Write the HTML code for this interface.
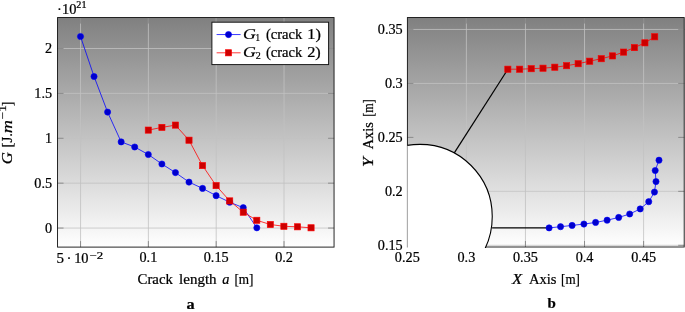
<!DOCTYPE html>
<html><head><meta charset="utf-8"><title>Figure</title>
<style>html,body{margin:0;padding:0;background:#fff}body{width:685px;height:312px;overflow:hidden}svg{display:block;will-change:transform}text{font-family:"Liberation Serif",serif;fill:#000;stroke:#000;stroke-width:0.22px}</style>
</head><body>
<svg width="685" height="312" viewBox="0 0 685 312">
<defs><linearGradient id="bg" x1="0" y1="0" x2="0" y2="1"><stop offset="0" stop-color="#808080"/><stop offset="1" stop-color="#ffffff"/></linearGradient>
<clipPath id="cr"><rect x="407.4" y="17.55" width="276.8" height="230.45"/></clipPath>
</defs>
<rect width="685" height="312" fill="#fff"/>
<rect x="57.55" y="17.55" width="276.5" height="229.55" fill="url(#bg)"/>
<line x1="80.55" y1="17.55" x2="80.55" y2="247.1" stroke="#c2c2c2" stroke-width="0.8"/>
<line x1="148.38" y1="17.55" x2="148.38" y2="247.1" stroke="#c2c2c2" stroke-width="0.8"/>
<line x1="216.2" y1="17.55" x2="216.2" y2="247.1" stroke="#c2c2c2" stroke-width="0.8"/>
<line x1="284.03" y1="17.55" x2="284.03" y2="247.1" stroke="#c2c2c2" stroke-width="0.8"/>
<line x1="57.55" y1="228.05" x2="334.05" y2="228.05" stroke="#c2c2c2" stroke-width="0.8"/>
<line x1="57.55" y1="183.16" x2="334.05" y2="183.16" stroke="#c2c2c2" stroke-width="0.8"/>
<line x1="57.55" y1="138.27" x2="334.05" y2="138.27" stroke="#c2c2c2" stroke-width="0.8"/>
<line x1="57.55" y1="93.38" x2="334.05" y2="93.38" stroke="#c2c2c2" stroke-width="0.8"/>
<line x1="57.55" y1="48.49" x2="334.05" y2="48.49" stroke="#c2c2c2" stroke-width="0.8"/>
<line x1="80.55" y1="17.55" x2="80.55" y2="23.55" stroke="#848484" stroke-width="0.9"/>
<line x1="80.55" y1="247.1" x2="80.55" y2="241.1" stroke="#848484" stroke-width="0.9"/>
<line x1="148.38" y1="17.55" x2="148.38" y2="23.55" stroke="#848484" stroke-width="0.9"/>
<line x1="148.38" y1="247.1" x2="148.38" y2="241.1" stroke="#848484" stroke-width="0.9"/>
<line x1="216.2" y1="17.55" x2="216.2" y2="23.55" stroke="#848484" stroke-width="0.9"/>
<line x1="216.2" y1="247.1" x2="216.2" y2="241.1" stroke="#848484" stroke-width="0.9"/>
<line x1="284.03" y1="17.55" x2="284.03" y2="23.55" stroke="#848484" stroke-width="0.9"/>
<line x1="284.03" y1="247.1" x2="284.03" y2="241.1" stroke="#848484" stroke-width="0.9"/>
<line x1="57.55" y1="228.05" x2="63.55" y2="228.05" stroke="#848484" stroke-width="0.9"/>
<line x1="334.05" y1="228.05" x2="328.05" y2="228.05" stroke="#848484" stroke-width="0.9"/>
<line x1="57.55" y1="183.16" x2="63.55" y2="183.16" stroke="#848484" stroke-width="0.9"/>
<line x1="334.05" y1="183.16" x2="328.05" y2="183.16" stroke="#848484" stroke-width="0.9"/>
<line x1="57.55" y1="138.27" x2="63.55" y2="138.27" stroke="#848484" stroke-width="0.9"/>
<line x1="334.05" y1="138.27" x2="328.05" y2="138.27" stroke="#848484" stroke-width="0.9"/>
<line x1="57.55" y1="93.38" x2="63.55" y2="93.38" stroke="#848484" stroke-width="0.9"/>
<line x1="334.05" y1="93.38" x2="328.05" y2="93.38" stroke="#848484" stroke-width="0.9"/>
<line x1="57.55" y1="48.49" x2="63.55" y2="48.49" stroke="#848484" stroke-width="0.9"/>
<line x1="334.05" y1="48.49" x2="328.05" y2="48.49" stroke="#848484" stroke-width="0.9"/>
<rect x="57.55" y="17.55" width="276.5" height="229.55" fill="none" stroke="#141414" stroke-width="0.92"/>
<polyline fill="none" stroke="#0000ff" stroke-width="0.78" points="80.5,36.5 94.05,76.5 107.6,112.1 121.15,141.9 134.7,147 148.3,154.5 161.9,164 175.45,172.6 189,182.1 202.55,188.4 216.1,195.65 229.7,202.2 243.25,207.7 256.8,227.8"/>
<circle cx="80.5" cy="36.5" r="3.1" fill="#0000cc" stroke="#0000ff" stroke-width="0.6"/>
<circle cx="94.05" cy="76.5" r="3.1" fill="#0000cc" stroke="#0000ff" stroke-width="0.6"/>
<circle cx="107.6" cy="112.1" r="3.1" fill="#0000cc" stroke="#0000ff" stroke-width="0.6"/>
<circle cx="121.15" cy="141.9" r="3.1" fill="#0000cc" stroke="#0000ff" stroke-width="0.6"/>
<circle cx="134.7" cy="147" r="3.1" fill="#0000cc" stroke="#0000ff" stroke-width="0.6"/>
<circle cx="148.3" cy="154.5" r="3.1" fill="#0000cc" stroke="#0000ff" stroke-width="0.6"/>
<circle cx="161.9" cy="164" r="3.1" fill="#0000cc" stroke="#0000ff" stroke-width="0.6"/>
<circle cx="175.45" cy="172.6" r="3.1" fill="#0000cc" stroke="#0000ff" stroke-width="0.6"/>
<circle cx="189" cy="182.1" r="3.1" fill="#0000cc" stroke="#0000ff" stroke-width="0.6"/>
<circle cx="202.55" cy="188.4" r="3.1" fill="#0000cc" stroke="#0000ff" stroke-width="0.6"/>
<circle cx="216.1" cy="195.65" r="3.1" fill="#0000cc" stroke="#0000ff" stroke-width="0.6"/>
<circle cx="229.7" cy="202.2" r="3.1" fill="#0000cc" stroke="#0000ff" stroke-width="0.6"/>
<circle cx="243.25" cy="207.7" r="3.1" fill="#0000cc" stroke="#0000ff" stroke-width="0.6"/>
<circle cx="256.8" cy="227.8" r="3.1" fill="#0000cc" stroke="#0000ff" stroke-width="0.6"/>
<polyline fill="none" stroke="#ff0000" stroke-width="0.78" points="148.3,130.1 161.9,127.4 175.45,125.1 189,140.2 202.55,165.6 216.1,185.6 229.7,200.9 243.25,212.2 256.8,220.3 270.35,224.5 283.9,226.3 297.5,226.8 311.05,227.8"/>
<rect x="145.2" y="127" width="6.2" height="6.2" fill="#cc0000" stroke="#ff0000" stroke-width="0.6"/>
<rect x="158.8" y="124.3" width="6.2" height="6.2" fill="#cc0000" stroke="#ff0000" stroke-width="0.6"/>
<rect x="172.35" y="122" width="6.2" height="6.2" fill="#cc0000" stroke="#ff0000" stroke-width="0.6"/>
<rect x="185.9" y="137.1" width="6.2" height="6.2" fill="#cc0000" stroke="#ff0000" stroke-width="0.6"/>
<rect x="199.45" y="162.5" width="6.2" height="6.2" fill="#cc0000" stroke="#ff0000" stroke-width="0.6"/>
<rect x="213" y="182.5" width="6.2" height="6.2" fill="#cc0000" stroke="#ff0000" stroke-width="0.6"/>
<rect x="226.6" y="197.8" width="6.2" height="6.2" fill="#cc0000" stroke="#ff0000" stroke-width="0.6"/>
<rect x="240.15" y="209.1" width="6.2" height="6.2" fill="#cc0000" stroke="#ff0000" stroke-width="0.6"/>
<rect x="253.7" y="217.2" width="6.2" height="6.2" fill="#cc0000" stroke="#ff0000" stroke-width="0.6"/>
<rect x="267.25" y="221.4" width="6.2" height="6.2" fill="#cc0000" stroke="#ff0000" stroke-width="0.6"/>
<rect x="280.8" y="223.2" width="6.2" height="6.2" fill="#cc0000" stroke="#ff0000" stroke-width="0.6"/>
<rect x="294.4" y="223.7" width="6.2" height="6.2" fill="#cc0000" stroke="#ff0000" stroke-width="0.6"/>
<rect x="307.95" y="224.7" width="6.2" height="6.2" fill="#cc0000" stroke="#ff0000" stroke-width="0.6"/>
<rect x="211.9" y="22.2" width="116.7" height="42.4" fill="#fff" stroke="#111" stroke-width="0.95"/>
<line x1="216.6" y1="34.55" x2="240.6" y2="34.55" stroke="#0000ff" stroke-width="0.78"/>
<circle cx="228.5" cy="34.55" r="3.1" fill="#0000cc" stroke="#0000ff" stroke-width="0.6"/>
<line x1="216.6" y1="52.8" x2="240.6" y2="52.8" stroke="#ff0000" stroke-width="0.78"/>
<rect x="225.4" y="49.7" width="6.2" height="6.2" fill="#cc0000" stroke="#ff0000" stroke-width="0.6"/>
<text transform="translate(242.9,38.7) scale(1.243,1)" font-size="14.3"><tspan font-style="italic">G</tspan></text>
<text transform="translate(255.42,41.2) scale(0.896,1)" font-size="10.0">1</text>
<text transform="translate(265.9,38.7) scale(1.021,1)" font-size="14.3">(crack</text>
<text transform="translate(307.33,38.7) scale(1.140,1)" font-size="14.3">1)</text>
<text transform="translate(242.9,56.6) scale(1.243,1)" font-size="14.3"><tspan font-style="italic">G</tspan></text>
<text transform="translate(255.7,59.1) scale(1.000,1)" font-size="10.0">2</text>
<text transform="translate(265.9,56.6) scale(1.021,1)" font-size="14.3">(crack</text>
<text transform="translate(307.18,56.6) scale(1.144,1)" font-size="14.3">2)</text>
<text transform="translate(52.1,232.65) scale(1.05,1)" text-anchor="end" font-size="13.55" >0</text>
<text transform="translate(52.1,187.76) scale(1.05,1)" text-anchor="end" font-size="13.55" >0.5</text>
<text transform="translate(52.1,142.87) scale(1.05,1)" text-anchor="end" font-size="13.55" >1</text>
<text transform="translate(52.1,97.98) scale(1.05,1)" text-anchor="end" font-size="13.55" >1.5</text>
<text transform="translate(52.1,53.09) scale(1.05,1)" text-anchor="end" font-size="13.55" >2</text>
<text transform="translate(56.62,263.4) scale(1.109,1)" font-size="13.55">5</text>
<text transform="translate(66.5,263.4) scale(1.111,1)" font-size="13.55">·</text>
<text transform="translate(74.15,263.4) scale(1.064,1)" font-size="13.55">10</text>
<text transform="translate(89.45,258.5) scale(1.350,1)" font-size="9.5">−2</text>
<text transform="translate(148.38,261.8) scale(1.05,1)" text-anchor="middle" font-size="13.55" >0.1</text>
<text transform="translate(216.2,261.8) scale(1.05,1)" text-anchor="middle" font-size="13.55" >0.15</text>
<text transform="translate(284.03,261.8) scale(1.05,1)" text-anchor="middle" font-size="13.55" >0.2</text>
<text transform="translate(57.12,13.5) scale(1.066,1)" font-size="13.55">·10</text>
<text transform="translate(76.3,7.9) scale(1.071,1)" font-size="9.5">21</text>
<text transform="translate(137.57,284.1) scale(1.036,1)" font-size="14.3">Crack</text>
<text transform="translate(179.1,284.1) scale(1.051,1)" font-size="14.3">length</text>
<text transform="translate(222.2,284.1) scale(1.000,1)" font-size="14.3"><tspan font-style="italic">a</tspan></text>
<text transform="translate(234.38,284.1) scale(0.924,1)" font-size="14.3">[m]</text>
<text transform="translate(186.4,308.5) scale(1.071,1)" font-size="15.2" font-weight="bold">a</text>
<text transform="translate(12.3,0) rotate(-90) translate(-164.32,0) scale(1.173,1)" font-size="14.3"><tspan font-style="italic">G</tspan></text>
<text transform="translate(12.3,0) rotate(-90) translate(-147.55,0) scale(1.046,1)" font-size="14.3">[J.</text>
<text transform="translate(12.3,0) rotate(-90) translate(-133.22,0) scale(1.276,1)" font-size="14.3"><tspan font-style="italic">m</tspan></text>
<text transform="translate(6.3,0) rotate(-90) translate(-119.2,0) scale(1.321,1)" font-size="10.0">−1</text>
<text transform="translate(12.3,0) rotate(-90) translate(-105.95,0) scale(0.910,1)" font-size="14.3">]</text>
<rect x="407.4" y="17.55" width="276.8" height="229.45" fill="url(#bg)"/>
<line x1="466.38" y1="17.55" x2="466.38" y2="247" stroke="#c2c2c2" stroke-width="0.8"/>
<line x1="525.45" y1="17.55" x2="525.45" y2="247" stroke="#c2c2c2" stroke-width="0.8"/>
<line x1="584.53" y1="17.55" x2="584.53" y2="247" stroke="#c2c2c2" stroke-width="0.8"/>
<line x1="643.6" y1="17.55" x2="643.6" y2="247" stroke="#c2c2c2" stroke-width="0.8"/>
<line x1="407.4" y1="245.3" x2="684.2" y2="245.3" stroke="#c2c2c2" stroke-width="0.8"/>
<line x1="407.4" y1="191.34" x2="684.2" y2="191.34" stroke="#c2c2c2" stroke-width="0.8"/>
<line x1="407.4" y1="137.38" x2="684.2" y2="137.38" stroke="#c2c2c2" stroke-width="0.8"/>
<line x1="407.4" y1="83.41" x2="684.2" y2="83.41" stroke="#c2c2c2" stroke-width="0.8"/>
<line x1="407.4" y1="29.45" x2="684.2" y2="29.45" stroke="#c2c2c2" stroke-width="0.8"/>
<line x1="466.38" y1="17.55" x2="466.38" y2="23.55" stroke="#848484" stroke-width="0.9"/>
<line x1="466.38" y1="247" x2="466.38" y2="241" stroke="#848484" stroke-width="0.9"/>
<line x1="525.45" y1="17.55" x2="525.45" y2="23.55" stroke="#848484" stroke-width="0.9"/>
<line x1="525.45" y1="247" x2="525.45" y2="241" stroke="#848484" stroke-width="0.9"/>
<line x1="584.53" y1="17.55" x2="584.53" y2="23.55" stroke="#848484" stroke-width="0.9"/>
<line x1="584.53" y1="247" x2="584.53" y2="241" stroke="#848484" stroke-width="0.9"/>
<line x1="643.6" y1="17.55" x2="643.6" y2="23.55" stroke="#848484" stroke-width="0.9"/>
<line x1="643.6" y1="247" x2="643.6" y2="241" stroke="#848484" stroke-width="0.9"/>
<line x1="407.4" y1="245.3" x2="413.4" y2="245.3" stroke="#848484" stroke-width="0.9"/>
<line x1="684.2" y1="245.3" x2="678.2" y2="245.3" stroke="#848484" stroke-width="0.9"/>
<line x1="407.4" y1="191.34" x2="413.4" y2="191.34" stroke="#848484" stroke-width="0.9"/>
<line x1="684.2" y1="191.34" x2="678.2" y2="191.34" stroke="#848484" stroke-width="0.9"/>
<line x1="407.4" y1="137.38" x2="413.4" y2="137.38" stroke="#848484" stroke-width="0.9"/>
<line x1="684.2" y1="137.38" x2="678.2" y2="137.38" stroke="#848484" stroke-width="0.9"/>
<line x1="407.4" y1="83.41" x2="413.4" y2="83.41" stroke="#848484" stroke-width="0.9"/>
<line x1="684.2" y1="83.41" x2="678.2" y2="83.41" stroke="#848484" stroke-width="0.9"/>
<line x1="407.4" y1="29.45" x2="413.4" y2="29.45" stroke="#848484" stroke-width="0.9"/>
<line x1="684.2" y1="29.45" x2="678.2" y2="29.45" stroke="#848484" stroke-width="0.9"/>
<rect x="407.4" y="17.55" width="276.8" height="229.45" fill="none" stroke="#141414" stroke-width="0.92"/>
<g clip-path="url(#cr)">
<circle cx="420" cy="216.6" r="72.25" fill="#fff" stroke="#000" stroke-width="1.1"/>
</g>
<line x1="454.3" y1="152.9" x2="507.85" y2="69.2" stroke="#000" stroke-width="1.2"/>
<line x1="492.1" y1="227.85" x2="549.1" y2="227.85" stroke="#000" stroke-width="1.2"/>
<polyline fill="none" stroke="#ff0000" stroke-width="0.78" points="507.85,69.2 519.65,69.2 531.2,68.7 543,68.2 554.8,67.2 566.6,65.7 578.15,63.7 589.7,61.2 601.25,58.7 612.55,55.9 623.6,52.1 634.4,47.6 644.9,42.85 654.7,36.8"/>
<rect x="504.75" y="66.1" width="6.2" height="6.2" fill="#cc0000" stroke="#ff0000" stroke-width="0.6"/>
<rect x="516.55" y="66.1" width="6.2" height="6.2" fill="#cc0000" stroke="#ff0000" stroke-width="0.6"/>
<rect x="528.1" y="65.6" width="6.2" height="6.2" fill="#cc0000" stroke="#ff0000" stroke-width="0.6"/>
<rect x="539.9" y="65.1" width="6.2" height="6.2" fill="#cc0000" stroke="#ff0000" stroke-width="0.6"/>
<rect x="551.7" y="64.1" width="6.2" height="6.2" fill="#cc0000" stroke="#ff0000" stroke-width="0.6"/>
<rect x="563.5" y="62.6" width="6.2" height="6.2" fill="#cc0000" stroke="#ff0000" stroke-width="0.6"/>
<rect x="575.05" y="60.6" width="6.2" height="6.2" fill="#cc0000" stroke="#ff0000" stroke-width="0.6"/>
<rect x="586.6" y="58.1" width="6.2" height="6.2" fill="#cc0000" stroke="#ff0000" stroke-width="0.6"/>
<rect x="598.15" y="55.6" width="6.2" height="6.2" fill="#cc0000" stroke="#ff0000" stroke-width="0.6"/>
<rect x="609.45" y="52.8" width="6.2" height="6.2" fill="#cc0000" stroke="#ff0000" stroke-width="0.6"/>
<rect x="620.5" y="49" width="6.2" height="6.2" fill="#cc0000" stroke="#ff0000" stroke-width="0.6"/>
<rect x="631.3" y="44.5" width="6.2" height="6.2" fill="#cc0000" stroke="#ff0000" stroke-width="0.6"/>
<rect x="641.8" y="39.75" width="6.2" height="6.2" fill="#cc0000" stroke="#ff0000" stroke-width="0.6"/>
<rect x="651.6" y="33.7" width="6.2" height="6.2" fill="#cc0000" stroke="#ff0000" stroke-width="0.6"/>
<polyline fill="none" stroke="#0000ff" stroke-width="0.78" points="549.1,227.9 560.55,226.7 572.1,225.45 583.9,224.05 595.6,222.45 607.1,220.2 618.7,217.45 629.7,214 640.2,208.95 648.75,201.7 654.45,192.1 656,181.6 655.2,170.5 659,160.2"/>
<circle cx="549.1" cy="227.9" r="3.1" fill="#0000cc" stroke="#0000ff" stroke-width="0.6"/>
<circle cx="560.55" cy="226.7" r="3.1" fill="#0000cc" stroke="#0000ff" stroke-width="0.6"/>
<circle cx="572.1" cy="225.45" r="3.1" fill="#0000cc" stroke="#0000ff" stroke-width="0.6"/>
<circle cx="583.9" cy="224.05" r="3.1" fill="#0000cc" stroke="#0000ff" stroke-width="0.6"/>
<circle cx="595.6" cy="222.45" r="3.1" fill="#0000cc" stroke="#0000ff" stroke-width="0.6"/>
<circle cx="607.1" cy="220.2" r="3.1" fill="#0000cc" stroke="#0000ff" stroke-width="0.6"/>
<circle cx="618.7" cy="217.45" r="3.1" fill="#0000cc" stroke="#0000ff" stroke-width="0.6"/>
<circle cx="629.7" cy="214" r="3.1" fill="#0000cc" stroke="#0000ff" stroke-width="0.6"/>
<circle cx="640.2" cy="208.95" r="3.1" fill="#0000cc" stroke="#0000ff" stroke-width="0.6"/>
<circle cx="648.75" cy="201.7" r="3.1" fill="#0000cc" stroke="#0000ff" stroke-width="0.6"/>
<circle cx="654.45" cy="192.1" r="3.1" fill="#0000cc" stroke="#0000ff" stroke-width="0.6"/>
<circle cx="656" cy="181.6" r="3.1" fill="#0000cc" stroke="#0000ff" stroke-width="0.6"/>
<circle cx="655.2" cy="170.5" r="3.1" fill="#0000cc" stroke="#0000ff" stroke-width="0.6"/>
<circle cx="659" cy="160.2" r="3.1" fill="#0000cc" stroke="#0000ff" stroke-width="0.6"/>
<text transform="translate(402.7,249.9) scale(1.05,1)" text-anchor="end" font-size="13.55" >0.15</text>
<text transform="translate(402.7,195.94) scale(1.05,1)" text-anchor="end" font-size="13.55" >0.2</text>
<text transform="translate(402.7,141.97) scale(1.05,1)" text-anchor="end" font-size="13.55" >0.25</text>
<text transform="translate(402.7,88.01) scale(1.05,1)" text-anchor="end" font-size="13.55" >0.3</text>
<text transform="translate(402.7,34.05) scale(1.05,1)" text-anchor="end" font-size="13.55" >0.35</text>
<text transform="translate(407.3,261.8) scale(1.05,1)" text-anchor="middle" font-size="13.55" >0.25</text>
<text transform="translate(466.38,261.8) scale(1.05,1)" text-anchor="middle" font-size="13.55" >0.3</text>
<text transform="translate(525.45,261.8) scale(1.05,1)" text-anchor="middle" font-size="13.55" >0.35</text>
<text transform="translate(584.53,261.8) scale(1.05,1)" text-anchor="middle" font-size="13.55" >0.4</text>
<text transform="translate(643.6,261.8) scale(1.05,1)" text-anchor="middle" font-size="13.55" >0.45</text>
<text transform="translate(511.92,284.1) scale(1.159,1)" font-size="14.3"><tspan font-style="italic">X</tspan></text>
<text transform="translate(528.95,284.1) scale(1.021,1)" font-size="14.3">Axis</text>
<text transform="translate(561.1,284.1) scale(0.914,1)" font-size="14.3">[m]</text>
<text transform="translate(547.45,308.3) scale(1.000,1)" font-size="15.0" font-weight="bold">b</text>
<text transform="translate(373,0) rotate(-90) translate(-166.93,0) scale(1.230,1)" font-size="14.3"><tspan font-style="italic">Y</tspan></text>
<text transform="translate(373,0) rotate(-90) translate(-149.3,0) scale(1.000,1)" font-size="14.3">Axis</text>
<text transform="translate(373,0) rotate(-90) translate(-116.72,0) scale(0.841,1)" font-size="14.3">[m]</text>
</svg></body></html>
